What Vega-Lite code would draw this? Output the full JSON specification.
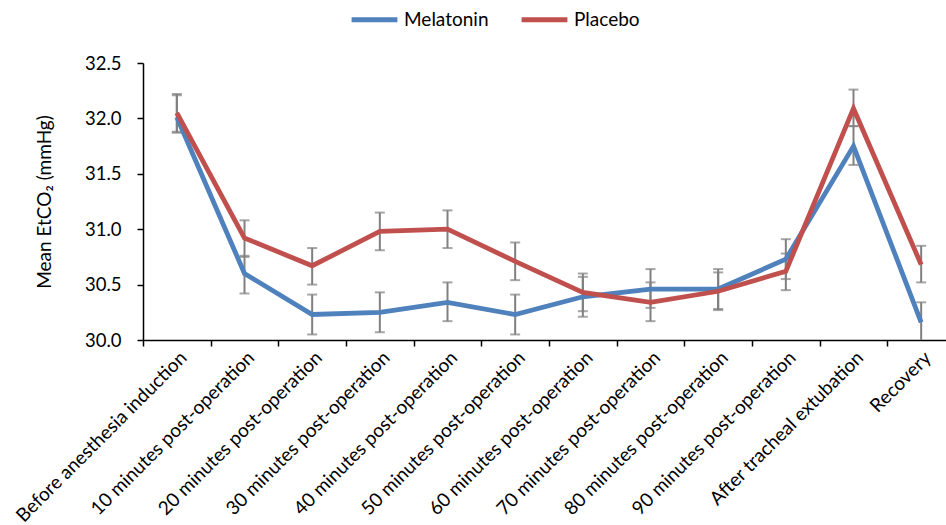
{
  "$schema": "https://vega.github.io/schema/vega-lite/v6.json",
  "autosize": {"type": "none"},
  "width": 812,
  "height": 277,
  "padding": {"left": 143, "top": 63, "right": 0, "bottom": 185},
  "background": "white",
  "config": {
    "view": {"stroke": null},
    "font": "Lato",
    "axis": {"labelFont": "Lato", "titleFont": "Lato", "labelColor": "#000000", "titleColor": "#000000", "grid": false, "domainColor": "#000000", "tickColor": "#000000", "domainWidth": 1.5, "tickWidth": 1.5}
  },
  "data": {
    "values": [
      {"time": "Before anesthesia induction", "o": 1, "group": "Melatonin", "mean": 32.01, "lo": 31.87, "hi": 32.21},
      {"time": "10 minutes post-operation", "o": 2, "group": "Melatonin", "mean": 30.60, "lo": 30.42, "hi": 30.76},
      {"time": "20 minutes post-operation", "o": 3, "group": "Melatonin", "mean": 30.23, "lo": 30.05, "hi": 30.41},
      {"time": "30 minutes post-operation", "o": 4, "group": "Melatonin", "mean": 30.25, "lo": 30.07, "hi": 30.43},
      {"time": "40 minutes post-operation", "o": 5, "group": "Melatonin", "mean": 30.34, "lo": 30.17, "hi": 30.52},
      {"time": "50 minutes post-operation", "o": 6, "group": "Melatonin", "mean": 30.23, "lo": 30.05, "hi": 30.41},
      {"time": "60 minutes post-operation", "o": 7, "group": "Melatonin", "mean": 30.39, "lo": 30.21, "hi": 30.57},
      {"time": "70 minutes post-operation", "o": 8, "group": "Melatonin", "mean": 30.46, "lo": 30.29, "hi": 30.64},
      {"time": "80 minutes post-operation", "o": 9, "group": "Melatonin", "mean": 30.46, "lo": 30.28, "hi": 30.64},
      {"time": "90 minutes post-operation", "o": 10, "group": "Melatonin", "mean": 30.73, "lo": 30.55, "hi": 30.91},
      {"time": "After tracheal extubation", "o": 11, "group": "Melatonin", "mean": 31.75, "lo": 31.58, "hi": 31.93},
      {"time": "Recovery", "o": 12, "group": "Melatonin", "mean": 30.16, "lo": 29.98, "hi": 30.34},
      {"time": "Before anesthesia induction", "o": 1, "group": "Placebo", "mean": 32.05, "lo": 31.88, "hi": 32.22},
      {"time": "10 minutes post-operation", "o": 2, "group": "Placebo", "mean": 30.92, "lo": 30.75, "hi": 31.08},
      {"time": "20 minutes post-operation", "o": 3, "group": "Placebo", "mean": 30.67, "lo": 30.50, "hi": 30.83},
      {"time": "30 minutes post-operation", "o": 4, "group": "Placebo", "mean": 30.98, "lo": 30.81, "hi": 31.15},
      {"time": "40 minutes post-operation", "o": 5, "group": "Placebo", "mean": 31.00, "lo": 30.83, "hi": 31.17},
      {"time": "50 minutes post-operation", "o": 6, "group": "Placebo", "mean": 30.71, "lo": 30.54, "hi": 30.88},
      {"time": "60 minutes post-operation", "o": 7, "group": "Placebo", "mean": 30.43, "lo": 30.26, "hi": 30.60},
      {"time": "70 minutes post-operation", "o": 8, "group": "Placebo", "mean": 30.34, "lo": 30.17, "hi": 30.52},
      {"time": "80 minutes post-operation", "o": 9, "group": "Placebo", "mean": 30.44, "lo": 30.27, "hi": 30.61},
      {"time": "90 minutes post-operation", "o": 10, "group": "Placebo", "mean": 30.62, "lo": 30.45, "hi": 30.78},
      {"time": "After tracheal extubation", "o": 11, "group": "Placebo", "mean": 32.09, "lo": 31.93, "hi": 32.26},
      {"time": "Recovery", "o": 12, "group": "Placebo", "mean": 30.68, "lo": 30.52, "hi": 30.85}
    ]
  },
  "encoding": {
    "x": {
      "field": "time", "type": "nominal", "sort": {"field": "o"},
      "scale": {"type": "band", "paddingInner": 0, "paddingOuter": 0},
      "axis": {"title": null, "labelAngle": -45, "labelFontSize": 19, "labelPadding": 2, "tickBand": "extent", "tickSize": 6, "labelLimit": 400}
    }
  },
  "layer": [
    {
      "mark": {"type": "rule", "color": "#808080", "strokeWidth": 2, "clip": true},
      "encoding": {
        "y": {"field": "lo", "type": "quantitative"},
        "y2": {"field": "hi"}
      }
    },
    {
      "mark": {"type": "tick", "color": "#808080", "thickness": 2, "size": 10, "clip": true},
      "encoding": {"y": {"field": "lo", "type": "quantitative"}}
    },
    {
      "mark": {"type": "tick", "color": "#808080", "thickness": 2, "size": 10, "clip": true},
      "encoding": {"y": {"field": "hi", "type": "quantitative"}}
    },
    {
      "mark": {"type": "line", "strokeWidth": 4.8},
      "encoding": {
        "y": {
          "field": "mean", "type": "quantitative",
          "scale": {"domain": [30, 32.5], "nice": false, "zero": false},
          "axis": {"title": "Mean EtCO₂ (mmHg)", "titleFontSize": 19, "titleFontWeight": "normal", "titlePadding": 30, "labelFontSize": 18.5, "labelPadding": 16, "tickSize": 6, "values": [30, 30.5, 31, 31.5, 32, 32.5], "format": ".1f"}
        },
        "color": {
          "field": "group", "type": "nominal",
          "scale": {"domain": ["Melatonin", "Placebo"], "range": ["#4F81BD", "#C0504D"]},
          "legend": {"title": null, "orient": "none", "legendX": 206, "legendY": -69, "direction": "horizontal", "symbolType": "stroke", "symbolSize": 2100, "symbolStrokeWidth": 4.8, "labelFontSize": 19, "labelColor": "#000000", "columnPadding": 22, "labelOffset": 4}
        }
      }
    }
  ]
}
